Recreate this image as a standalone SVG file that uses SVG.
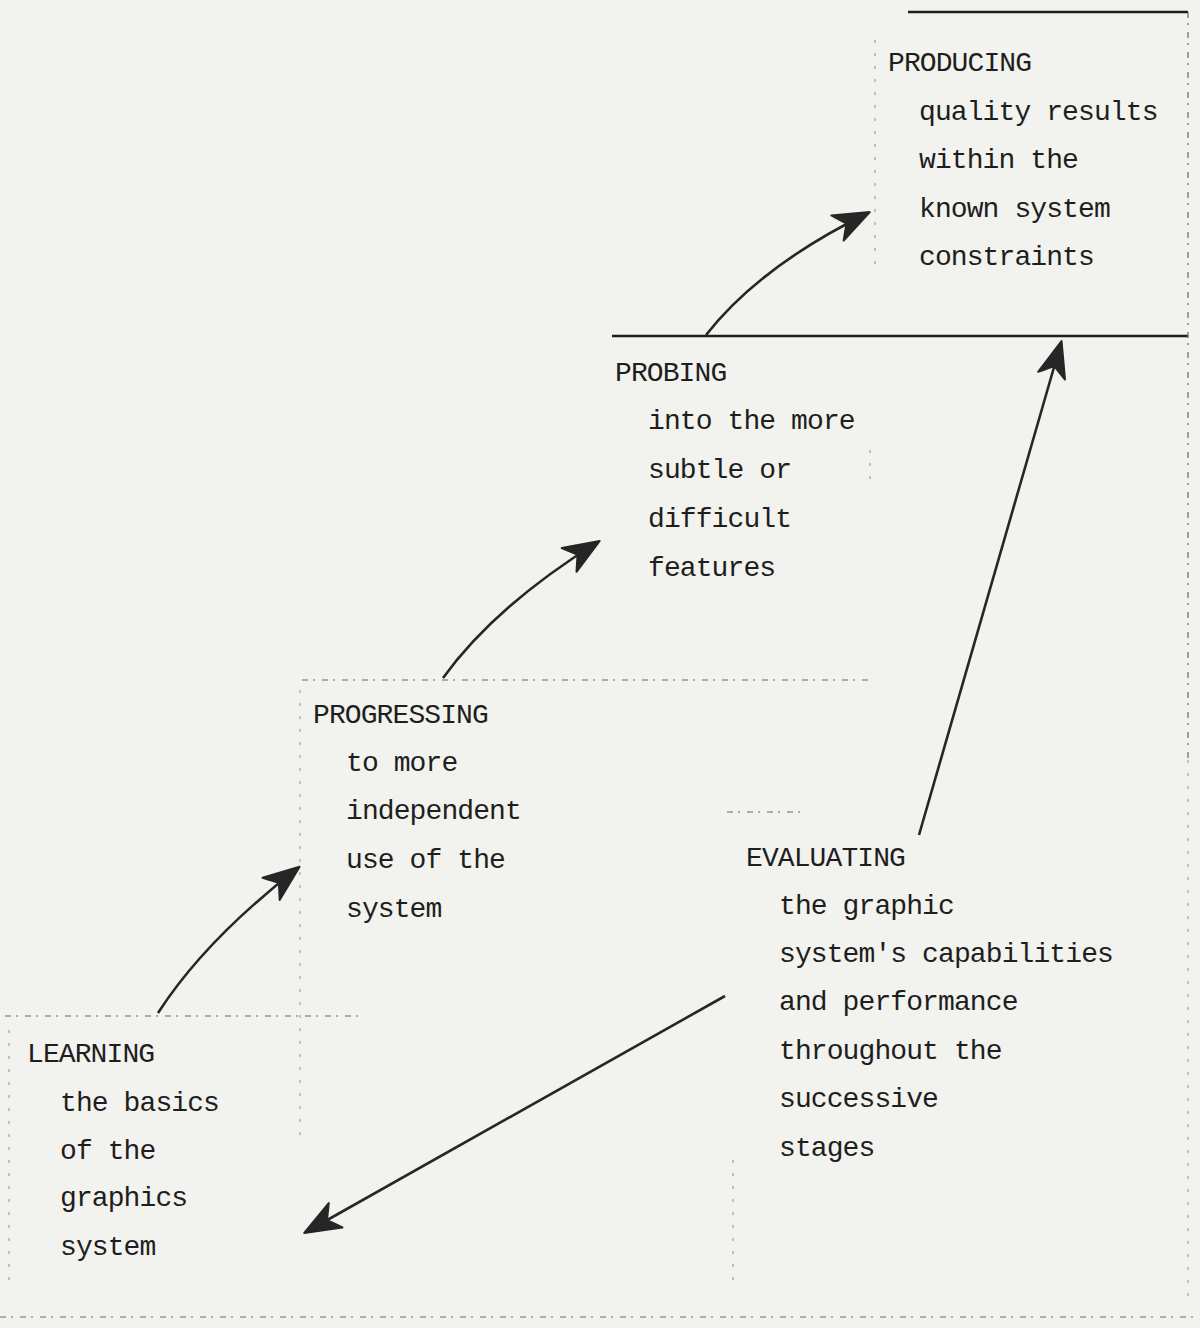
<svg xmlns="http://www.w3.org/2000/svg" width="1200" height="1328" viewBox="0 0 1200 1328">
<defs>
<style>
text{font-family:"Liberation Mono","DejaVu Sans Mono",monospace;font-size:28px;fill:#1e1e1e;letter-spacing:-0.9px}
.solid{stroke:#1e1e1e;stroke-width:2.5;fill:none}
.dash{stroke:#666;stroke-width:1.2;fill:none;stroke-dasharray:6 5 2 7}
.faint{stroke:#999;stroke-width:1.1;fill:none;stroke-dasharray:3 10}
.conn{stroke:#262626;stroke-width:2.6;fill:none}
</style>
<marker id="arr" markerUnits="userSpaceOnUse" markerWidth="50" markerHeight="40" viewBox="-40 -20 50 40" refX="0" refY="0" orient="auto">
<path d="M2,0 L-34,-14 Q-27,-4 -24,0 Q-27,4 -34,14 Z" fill="#262626" stroke="#262626" stroke-width="2" stroke-linejoin="round"/>
</marker>
</defs>
<rect width="1200" height="1328" fill="#f2f2ee"/>

<g id="frame">
<line class="solid" x1="908" y1="12" x2="1188" y2="12"/>
<line class="solid" x1="612" y1="336" x2="1188" y2="336"/>
<line class="dash" x1="1188" y1="12" x2="1188" y2="760"/>
<line class="faint" x1="1188" y1="760" x2="1188" y2="1300"/>
<line class="faint" x1="875" y1="40" x2="875" y2="270"/>
<line class="faint" x1="870" y1="450" x2="870" y2="480"/>
<line class="dash" x1="302" y1="680" x2="870" y2="680"/>
<line class="faint" x1="300" y1="690" x2="300" y2="1140"/>
<line class="dash" x1="5" y1="1016" x2="360" y2="1016"/>
<line class="faint" x1="9" y1="1030" x2="9" y2="1290"/>
<line class="dash" x1="727" y1="812" x2="800" y2="812"/>
<line class="faint" x1="733" y1="1160" x2="733" y2="1290"/>
<line class="dash" x1="0" y1="1317" x2="1200" y2="1317"/>
</g>

<g id="producing">
<text x="888" y="71">PRODUCING</text>
<text x="919" y="120">quality results</text>
<text x="919" y="168">within the</text>
<text x="919" y="217">known system</text>
<text x="919" y="265">constraints</text>
</g>

<g id="probing">
<text x="615" y="381">PROBING</text>
<text x="648" y="429">into the more</text>
<text x="648" y="478">subtle or</text>
<text x="648" y="527">difficult</text>
<text x="648" y="576">features</text>
</g>

<g id="progressing">
<text x="313" y="723">PROGRESSING</text>
<text x="346" y="771">to more</text>
<text x="346" y="819">independent</text>
<text x="346" y="868">use of the</text>
<text x="346" y="917">system</text>
</g>

<g id="learning">
<text x="27" y="1062">LEARNING</text>
<text x="60" y="1111">the basics</text>
<text x="60" y="1159">of the</text>
<text x="60" y="1206">graphics</text>
<text x="60" y="1255">system</text>
</g>

<g id="evaluating">
<text x="746" y="866">EVALUATING</text>
<text x="779" y="914">the graphic</text>
<text x="779" y="962">system's capabilities</text>
<text x="779" y="1010">and performance</text>
<text x="779" y="1059">throughout the</text>
<text x="779" y="1107">successive</text>
<text x="779" y="1156">stages</text>
</g>

<g id="connectors">
<path class="conn" d="M158,1013 Q205,940 298,868" marker-end="url(#arr)"/>
<path class="conn" d="M443,678 Q495,606 598,542" marker-end="url(#arr)"/>
<path class="conn" d="M706,335 Q760,266 868,213" marker-end="url(#arr)"/>
<path class="conn" d="M919,835 L1061,343" marker-end="url(#arr)"/>
<path class="conn" d="M725,996 L306,1232" marker-end="url(#arr)"/>
</g>
</svg>
